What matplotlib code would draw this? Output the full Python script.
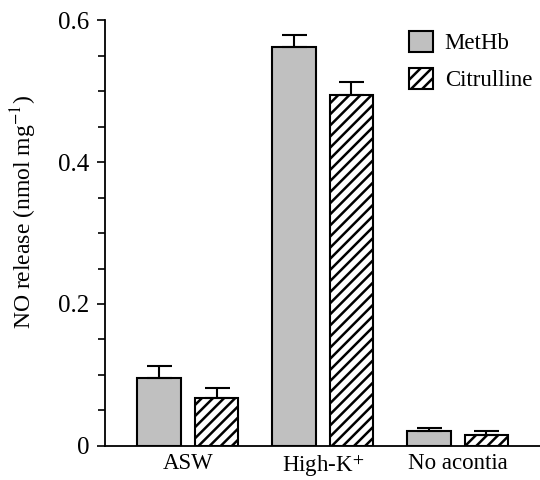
import numpy as np
import matplotlib
matplotlib.use("Agg")
import matplotlib.pyplot as plt
from matplotlib.ticker import MultipleLocator
from matplotlib.patches import Patch

plt.rcParams['font.family'] = ['Liberation Serif', 'DejaVu Serif']
plt.rcParams['mathtext.fontset'] = 'stix'
plt.rcParams['hatch.linewidth'] = 1.8
plt.rcParams['hatch.color'] = '#3a3a3a'

# Data
categories = ['ASW', 'High-K$^{+}$', 'No acontia']
methb = [0.096, 0.562, 0.021]
methb_err = [0.017, 0.017, 0.004]
citrulline = [0.068, 0.494, 0.016]
citrulline_err = [0.014, 0.019, 0.005]

fig = plt.figure(figsize=(5.4, 4.8), dpi=100)
ax = fig.add_axes([0.194, 0.071, 0.806, 0.887])

x = np.arange(len(categories))
w = 0.32
off = 0.213

ax.bar(x - off, methb, w, color='#c0c0c0', edgecolor='black', linewidth=1.5,
       yerr=[np.zeros(3), methb_err], capsize=9,
       error_kw=dict(elinewidth=1.5, capthick=1.5, ecolor='black'))
ax.bar(x + off, citrulline, w, color='white', edgecolor='black', linewidth=1.5,
       hatch='///',
       yerr=[np.zeros(3), citrulline_err], capsize=9,
       error_kw=dict(elinewidth=1.5, capthick=1.5, ecolor='black'))

ax.set_xlim(-0.615, 2.61)
ax.set_ylim(0, 0.6)
ax.set_xticks(x)
ax.set_xticklabels(categories, fontsize=16.5)
ax.tick_params(axis='x', length=0, pad=5)
ax.yaxis.set_minor_locator(MultipleLocator(0.05))
ax.set_yticks([0, 0.2, 0.4, 0.6])
ax.set_yticklabels(['0', '0.2', '0.4', '0.6'], fontsize=18)
ax.tick_params(axis='y', which='major', length=6, width=1.2, direction='out', pad=5)
ax.tick_params(axis='y', which='minor', length=5, width=1.2, direction='out')
ax.spines['top'].set_visible(False)
ax.spines['right'].set_visible(False)
ax.spines['left'].set_linewidth(1.3)
ax.spines['bottom'].set_linewidth(1.3)
ax.set_ylabel('NO release (nmol mg$^{-1}$)', fontsize=17)
ax.yaxis.set_label_coords(-0.15, 0.55)

handles = [Patch(facecolor='#c0c0c0', edgecolor='black', linewidth=1.5, label='MetHb'),
           Patch(facecolor='white', edgecolor='black', linewidth=1.5, hatch='///',
                 label='Citrulline')]
ax.legend(handles=handles, loc='upper left', bbox_to_anchor=(0.652, 1.024), frameon=False,
          fontsize=16.5, handlelength=1.05, handleheight=1.05, labelspacing=0.6,
          handletextpad=0.5)

fig.savefig('out.png', dpi=100)
